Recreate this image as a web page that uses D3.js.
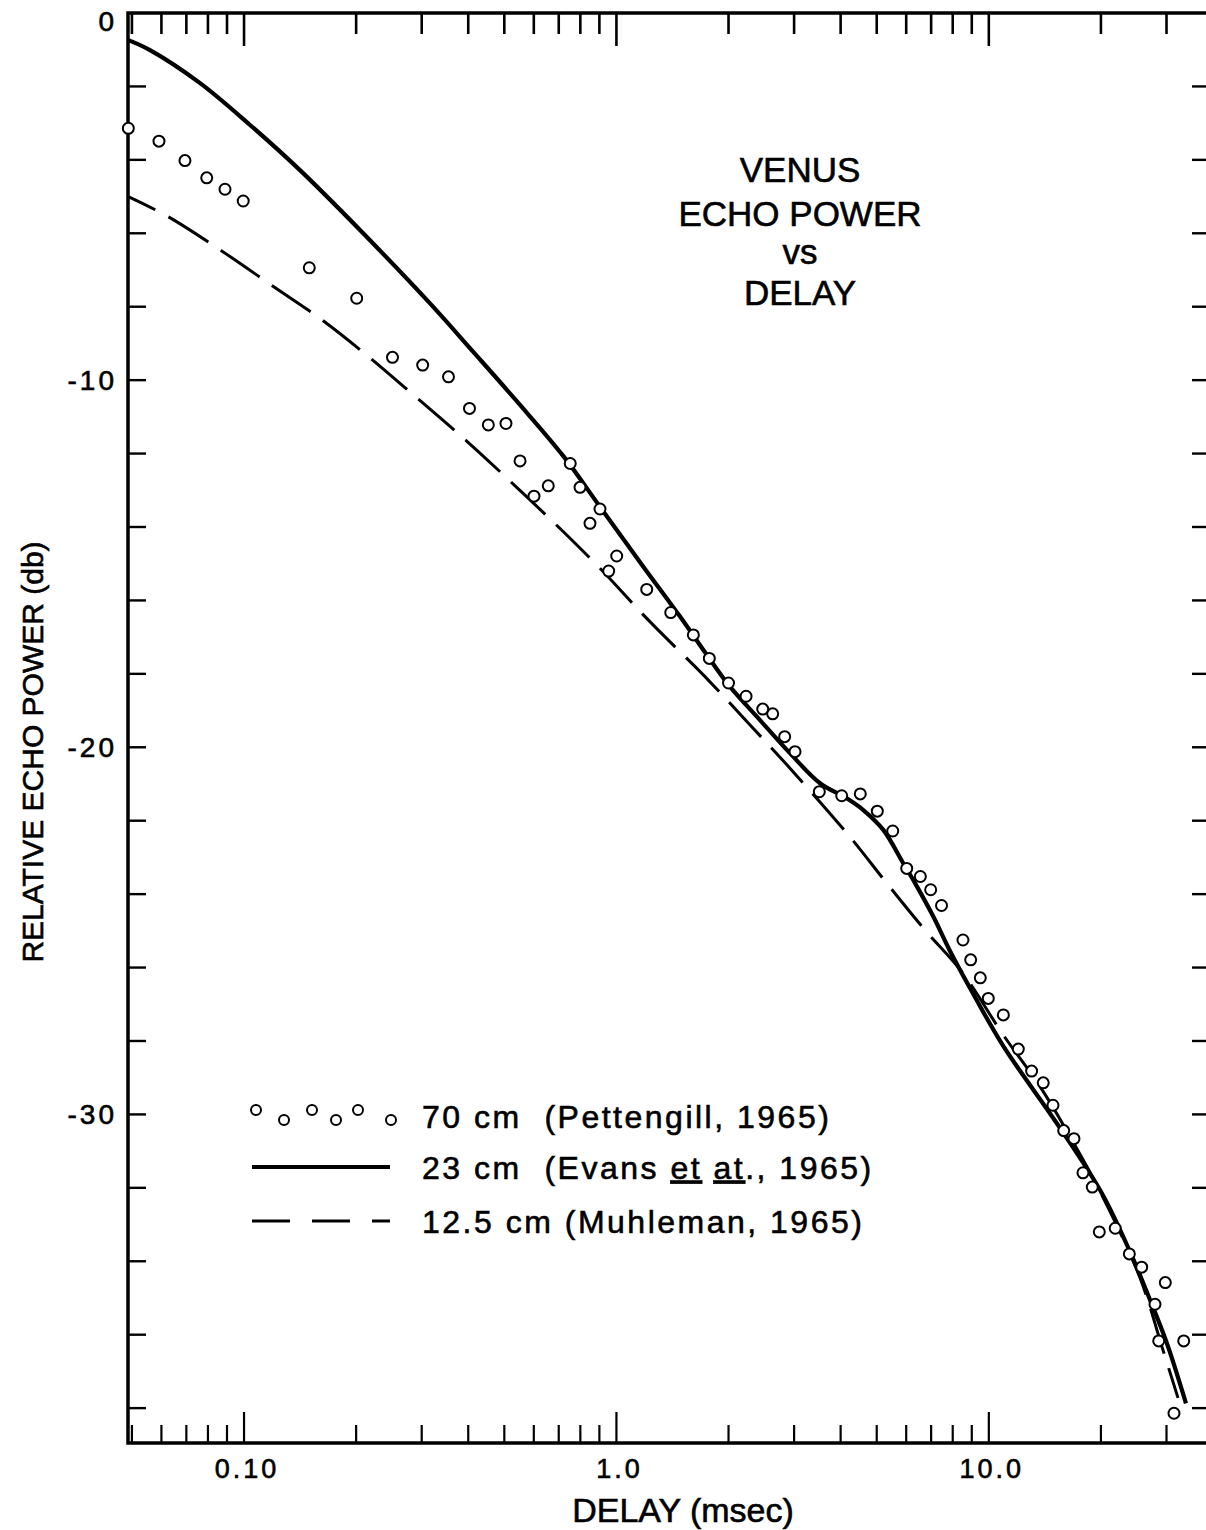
<!DOCTYPE html>
<html>
<head>
<meta charset="utf-8">
<script src="https://cdn.jsdelivr.net/npm/d3@7"></script>
<style>
  body { margin: 0; background: #fff; }
  svg { display: block; font-family: "Liberation Sans", Arial, sans-serif; }
  text { fill: #000; stroke: #000; stroke-width: 0.6px; }
</style>
</head>
<body>
<svg id="chart" width="1206" height="1530"></svg>
<script>
// 70 cm (Pettengill, 1965) - open circles, delay in msec / power in db
var delay70 = [0.0489, 0.0591, 0.0694, 0.0794, 0.0889, 0.0995, 0.1497, 0.2007, 0.2504, 0.3018,
               0.354, 0.4031, 0.4529, 0.5051, 0.551, 0.7516, 0.6007, 0.6561, 0.7984, 0.9034,
               0.8492, 1.0017, 0.9533, 1.206, 1.399, 1.609, 1.776, 2.0, 2.229, 2.471,
               2.628, 2.830, 3.017, 3.506, 4.027, 4.517, 5.018, 5.520, 6.019, 6.548,
               6.981, 7.464, 8.523, 8.939, 9.487, 9.967, 10.94, 12.0, 13.03, 14.0,
               14.87, 15.89, 16.93, 17.9, 18.96, 19.8, 21.85, 23.84, 25.73, 29.78,
               27.94, 28.59, 33.37, 31.42];
var power70 = [-3.14, -3.49, -4.02, -4.49, -4.80, -5.12, -6.94, -7.77, -9.38, -9.59,
               -9.91, -10.77, -11.22, -11.18, -12.20, -12.27, -13.16, -12.88, -12.92, -13.51,
               -13.90, -14.79, -15.20, -15.70, -16.33, -16.94, -17.58, -18.25, -18.61, -18.96,
               -19.09, -19.71, -20.12, -21.21, -21.32, -21.27, -21.74, -22.28, -23.30, -23.52,
               -23.88, -24.31, -25.25, -25.79, -26.28, -26.84, -27.29, -28.22, -28.82, -29.14,
               -29.75, -30.44, -30.66, -31.59, -31.98, -33.20, -33.10, -33.80, -34.16, -34.58,
               -35.17, -36.17, -36.17, -38.14];

// 23 cm (Evans et al., 1965) - solid curve
var delay23 = [0.0489, 0.0559, 0.0762, 0.1038, 0.1413, 0.2048, 0.3158, 0.4127, 0.5451, 0.7204,
               0.9034, 1.181, 1.482, 1.776, 2.018, 2.430, 2.924, 3.521, 4.153, 4.602,
               5.207, 5.893, 6.337, 7.094, 7.866, 9.084, 10.94, 15.53, 20.10,
               23.94, 27.09, 30.04, 33.84];
var power23 = [-0.74, -1.01, -1.91, -3.05, -4.28, -5.91, -7.91, -9.23, -10.62, -12.07,
               -13.45, -15.08, -16.44, -17.58, -18.35, -19.26, -20.16, -20.98, -21.39, -21.71,
               -22.25, -23.16, -23.70, -24.61, -25.55, -26.72, -28.14, -30.37, -32.14,
               -33.74, -35.05, -36.22, -37.87];

// 12.5 cm (Muhleman, 1965) - dashed curve
var delay125 = [0.0489, 0.0626, 0.0871, 0.1199, 0.160, 0.2135, 0.2819, 0.3962, 0.5397, 0.7204,
                0.922, 1.206, 1.765, 2.308, 2.924, 4.238, 5.318, 6.741, 8.455, 10.94,
                13.72, 17.21, 20.10, 25.46, 29.36, 32.21];
var power125 = [-5.00, -5.55, -6.48, -7.45, -8.32, -9.32, -10.36, -11.66, -12.92, -14.13,
                -15.22, -16.49, -18.17, -19.44, -20.57, -22.44, -23.70, -24.98, -26.11, -27.84,
                -29.24, -30.92, -32.19, -34.45, -36.42, -37.72];

var xLabelValues = [0.1, 1, 10];
var xLabels = ["0.10", "1.0", "10.0"];
var yLabelValues = [0, -10, -20, -30];
var yLabels = ["0", "-10", "-20", "-30"];

var titleLines = ["VENUS", "ECHO POWER", "vs", "DELAY"];
var legendNames = ["70 cm  (Pettengill, 1965)", "23 cm  (Evans et at., 1965)", "12.5 cm (Muhleman, 1965)"];

// plot box (note: "top" is reserved on window)
var pLeft = 128, pRight = 1206, pTop = 13, pBottom = 1443;

var x = d3.scaleLog().domain([0.0488, 38.3]).range([pLeft, pRight]);
var y = d3.scaleLinear().domain([0, -38.95]).range([pTop, pBottom]);

var svg = d3.select("#chart");

// log ticks: 1..9 in each decade
var xTicks = [];
[0.01, 0.1, 1, 10].forEach(function(d) {
    for (var k = 1; k < 10; k++) {
        var v = +(d * k).toPrecision(3);
        if (v >= x.domain()[0] && v <= x.domain()[1]) xTicks.push(v);
    }
});
var isDecade = function(v) { return Math.abs(Math.log10(v) - Math.round(Math.log10(v))) < 1e-6; };
var yTicks = d3.range(-2, -39, -2);

var ax = svg.append("g").attr("stroke", "#000").attr("fill", "none");

// frame
ax.append("path")
    .attr("stroke-width", 3.5)
    .attr("d", "M" + pRight + "," + pTop + "H" + pLeft + "V" + pBottom + "H" + pRight);

// top ticks
ax.selectAll(".tt").data(xTicks).enter().append("line")
    .attr("x1", x).attr("x2", x)
    .attr("y1", pTop).attr("y2", function(d) { return pTop + (isDecade(d) ? 33 : 21); })
    .attr("stroke-width", 2.6);
// bottom ticks
ax.selectAll(".bt").data(xTicks).enter().append("line")
    .attr("x1", x).attr("x2", x)
    .attr("y1", pBottom).attr("y2", function(d) { return pBottom - (isDecade(d) ? 31 : 18); })
    .attr("stroke-width", 2.2);
// left ticks
ax.selectAll(".lt").data(yTicks).enter().append("line")
    .attr("x1", pLeft).attr("x2", pLeft + 18)
    .attr("y1", y).attr("y2", y)
    .attr("stroke-width", 2.4);
// right ticks
ax.selectAll(".rt").data(yTicks).enter().append("line")
    .attr("x1", pRight - 14).attr("x2", pRight)
    .attr("y1", y).attr("y2", y)
    .attr("stroke-width", 2.4);

// tick labels
svg.selectAll(".xl").data(xLabelValues).enter().append("text")
    .attr("x", function(d) { return x(d) + 3; })
    .attr("y", pBottom + 35)
    .attr("text-anchor", "middle")
    .attr("style", "font-size:27px; letter-spacing:3px")
    .text(function(d, i) { return xLabels[i]; });

svg.selectAll(".yl").data(yLabelValues).enter().append("text")
    .attr("x", 117)
    .attr("y", function(d) { return Math.max(y(d), pTop + 8); })
    .attr("dy", "0.36em")
    .attr("text-anchor", "end")
    .attr("style", "font-size:28px; letter-spacing:3px")
    .text(function(d, i) { return yLabels[i]; });

// axis titles
svg.append("text")
    .attr("x", (pLeft + pRight) / 2 + 16)
    .attr("y", 1522)
    .attr("text-anchor", "middle")
    .attr("style", "font-size:34px")
    .text("DELAY (msec)");

svg.append("text")
    .attr("transform", "translate(43,752) rotate(-90)")
    .attr("text-anchor", "middle")
    .attr("style", "font-size:30px")
    .text("RELATIVE ECHO POWER (db)");

// chart title
var titleY = [182, 226, 264, 305];
svg.selectAll(".title").data(titleLines).enter().append("text")
    .attr("x", 800)
    .attr("y", function(d, i) { return titleY[i]; })
    .attr("text-anchor", "middle")
    .attr("style", "font-size:35px")
    .text(function(d) { return d; });

// curves
var line = d3.line()
    .x(function(d) { return x(d[0]); })
    .y(function(d) { return y(d[1]); })
    .curve(d3.curveCatmullRom.alpha(0.5));

var data125 = d3.zip(delay125, power125);
var data23 = d3.zip(delay23, power23);
var data70 = d3.zip(delay70, power70);

svg.append("path")
    .datum(data125)
    .attr("d", line)
    .attr("fill", "none")
    .attr("stroke", "#000")
    .attr("stroke-width", 3)
    .attr("stroke-dasharray", "47,15")
    .attr("stroke-dashoffset", 17);

svg.append("path")
    .datum(data23)
    .attr("d", line)
    .attr("fill", "none")
    .attr("stroke", "#000")
    .attr("stroke-width", 4.2);

svg.selectAll(".pt").data(data70).enter().append("circle")
    .attr("cx", function(d) { return x(d[0]); })
    .attr("cy", function(d) { return y(d[1]); })
    .attr("r", 5.5)
    .attr("fill", "#fff")
    .attr("stroke", "#000")
    .attr("stroke-width", 2);

// legend
var lg = svg.append("g").attr("transform", "translate(252,0)");
var rowY = [1116, 1167, 1221];

var legCx = [4, 32, 60, 84, 106, 139];
lg.selectAll("circle").data(legCx).enter().append("circle")
    .attr("cx", function(d) { return d; })
    .attr("cy", function(d, i) { return rowY[0] + (i % 2 ? 4 : -6); })
    .attr("r", 5)
    .attr("fill", "#fff")
    .attr("stroke", "#000")
    .attr("stroke-width", 2);

lg.append("line")
    .attr("x1", 0).attr("x2", 138)
    .attr("y1", rowY[1]).attr("y2", rowY[1])
    .attr("stroke", "#000").attr("stroke-width", 4);

lg.append("line")
    .attr("x1", 0).attr("x2", 138)
    .attr("y1", rowY[2]).attr("y2", rowY[2])
    .attr("stroke", "#000").attr("stroke-width", 3)
    .attr("stroke-dasharray", "38,22");

var lt = lg.selectAll(".lt").data(legendNames).enter().append("text")
    .attr("x", 170)
    .attr("y", function(d, i) { return rowY[i]; })
    .attr("dy", "0.36em")
    .attr("xml:space", "preserve")
    .attr("style", "font-size:32px; letter-spacing:2.5px");

lt.each(function(d, i) {
    var t = d3.select(this);
    if (i == 1) {
        // underlined "et al."
        t.append("tspan").text("23 cm  (Evans ");
        t.append("tspan").attr("text-decoration", "underline").text("et");
        t.append("tspan").text(" ");
        t.append("tspan").attr("text-decoration", "underline").text("at");
        t.append("tspan").text("., 1965)");
    } else {
        t.text(d);
    }
});
</script>
</body>
</html>
